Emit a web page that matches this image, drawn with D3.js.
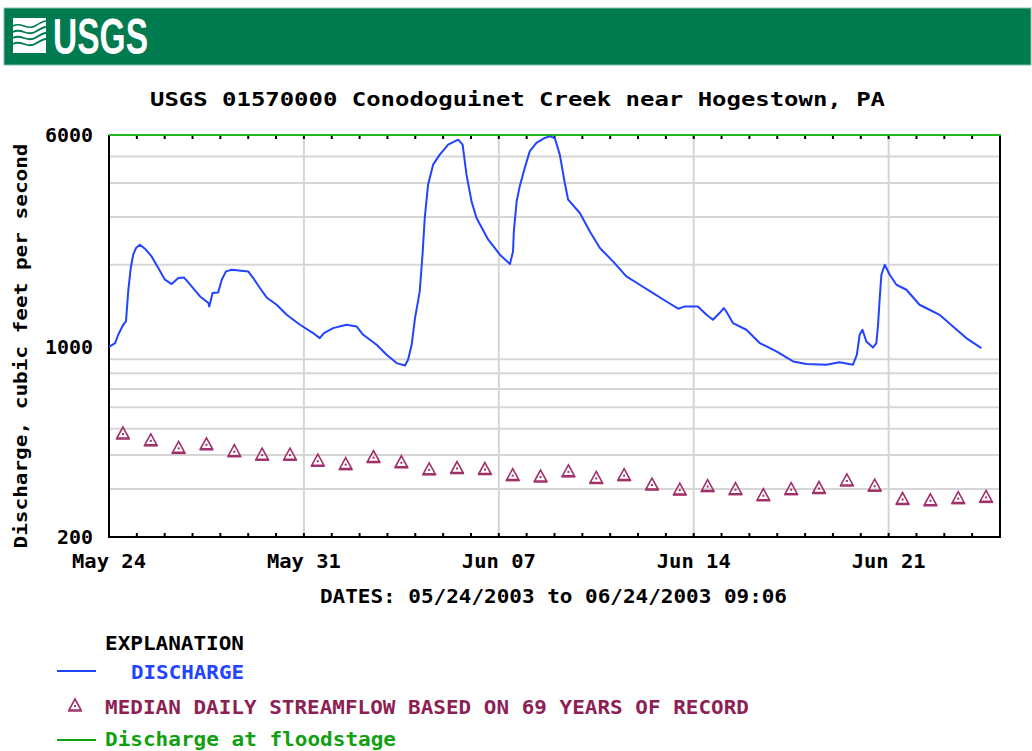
<!DOCTYPE html>
<html>
<head>
<meta charset="utf-8">
<script src="https://cdn.jsdelivr.net/npm/d3@7"></script>
<style>
  html, body { margin: 0; padding: 0; background: #fff; }
  svg { display: block; }
  text { font-family: "DejaVu Sans Mono", "Liberation Mono", monospace; font-weight: bold; }
</style>
</head>
<body>
<svg id="chart" width="1032" height="751"></svg>
<script>
// ---------------- DATA ----------------
const startDate = "2003-05-24";
const endDate = "2003-06-25";
// Discharge: days since May 24 00:00, and cubic feet per second
const dischargeDays = [0, 0.22, 0.33, 0.51, 0.61, 0.69, 0.78, 0.87, 0.97, 1.11,
  1.29, 1.53, 1.77, 2.01, 2.25, 2.49, 2.69, 2.90, 3.27, 3.57,
  3.60, 3.72, 3.92, 4.05, 4.20, 4.41, 5.00, 5.18, 5.42, 5.66,
  6.02, 6.38, 6.86, 7.33, 7.57, 7.72, 8.05, 8.53, 8.89, 9.13,
  9.61, 9.97, 10.33, 10.63, 10.74, 10.87, 10.99, 11.16, 11.26, 11.34,
  11.46, 11.64, 11.88, 12.18, 12.54, 12.70, 12.84, 13.02, 13.20, 13.62,
  14.04, 14.40, 14.51, 14.54, 14.64, 14.75, 14.93, 15.11, 15.35, 15.65,
  15.83, 16.01, 16.19, 16.37, 16.49, 16.91, 17.27, 17.63, 18.10, 18.58,
  19.06, 19.54, 20.02, 20.44, 20.68, 21.15, 21.46, 21.69, 21.93, 22.08,
  22.17, 22.41, 22.89, 23.37, 23.97, 24.57, 25.05, 25.76, 26.24, 26.72,
  26.86, 26.96, 27.06, 27.20, 27.44, 27.56, 27.62, 27.68, 27.74, 27.86,
  28.04, 28.28, 28.64, 29.11, 29.47, 29.83, 30.31, 30.79, 31.33];
const dischargeCfs = [1000, 1032, 1107, 1205, 1239, 1597, 1947, 2179, 2306, 2371,
  2293, 2148, 1947, 1764, 1700, 1789, 1798, 1700, 1531, 1448,
  1407, 1575, 1583, 1764, 1892, 1919, 1892, 1789, 1644, 1518,
  1427, 1311, 1205, 1123, 1076, 1123, 1171, 1205, 1188, 1107,
  1017, 935, 871, 854, 896, 1017, 1275, 1597, 2179, 2973,
  3940, 4669, 5081, 5529, 5768, 5529, 4290, 3421, 2973, 2474,
  2179, 2014, 2240, 2654, 3421, 3884, 4539, 5224, 5609, 5852,
  5932, 5852, 5081, 3997, 3471, 3101, 2654, 2306, 2059, 1813,
  1690, 1575, 1467, 1380, 1407, 1407, 1311, 1257, 1330, 1388,
  1348, 1222, 1155, 1032, 961, 883, 864, 859, 878, 859,
  935, 1107, 1155, 1046, 994, 1032, 1205, 1510, 1839, 2002,
  1839, 1690, 1620, 1427, 1368, 1311, 1188, 1076, 989];
// Median daily streamflow, one per day (May 24 .. Jun 24), plotted at noon
const medianCfs = [482, 455, 427, 440, 415, 403, 403, 383, 372, 395,
  378, 356, 360, 357, 339, 335, 350, 331, 339, 313,
  300, 309, 301, 286, 301, 304, 324, 310, 277, 274,
  279, 282];
const yTickValues = [200, 1000, 6000];
const yGridValues = [300, 400, 500, 600, 700, 800, 900, 2000, 3000, 4000, 5000];
const xTickDates = ["2003-05-24", "2003-05-31", "2003-06-07", "2003-06-14", "2003-06-21"];
const xTickLabels = ["May 24", "May 31", "Jun 07", "Jun 14", "Jun 21"];
const floodStage = 6000;
const titleText = "USGS 01570000 Conodoguinet Creek near Hogestown, PA";
const yLabelText = "Discharge, cubic feet per second";
const datesText = "DATES: 05/24/2003 to 06/24/2003 09:06";

// ---------------- LAYOUT ----------------
const svg = d3.select("#chart");
const L = 109, R = 1000, T = 135, B = 537;
const DAY = 864e5;
const t0 = new Date(startDate + "T00:00:00Z");
const x = d3.scaleUtc().domain([t0, new Date(endDate + "T00:00:00Z")]).range([L, R]);
const y = d3.scaleLog().domain([200, 6000]).range([B, T]);

const blue = "#2244ff", maroon = "#a0306a", maroonText = "#8e1f55", green = "#10a010";

// ---- Header bar ----
svg.append("rect").attr("x", 4).attr("y", 8).attr("width", 1027).attr("height", 57)
  .attr("fill", "#007a4f").attr("stroke", "#7fc0a6").attr("stroke-width", 1);
// logo icon
const logo = svg.append("g");
logo.append("rect").attr("x", 13).attr("y", 18).attr("width", 33).attr("height", 35).attr("fill", "#fff");
const wave = (y0, a) => `M13,${y0} C21,${y0 - a} 27,${y0 + a} 35,${y0} S46,${y0 - a} 46,${y0 - a}`;
[26, 32, 38, 44].forEach((yy, i) => {
  logo.append("path").attr("d", wave(yy, 5)).attr("fill", "none")
    .attr("stroke", "#007a4f").attr("stroke-width", i === 0 ? 1.6 : 1.8);
});
logo.append("text").attr("x", 53).attr("y", 54)
  .attr("textLength", 95).attr("lengthAdjust", "spacingAndGlyphs")
  .style("font-family", "'Liberation Sans Narrow', 'Liberation Sans', Arial, sans-serif")
  .style("font-weight", "bold").style("font-size", "50px").attr("fill", "#fff").text("USGS");

// ---- Title ----
svg.append("text").attr("x", 150).attr("y", 106).attr("textLength", 735)
  .attr("lengthAdjust", "spacingAndGlyphs").style("font-size", "20px").attr("fill", "#000")
  .text(titleText);

// ---- Grid ----
const grid = svg.append("g").attr("stroke", "#d6d6d6").attr("stroke-width", 2);
grid.selectAll("line.h").data(yGridValues).join("line").attr("class", "h")
  .attr("x1", L).attr("x2", R).attr("y1", d => y(d)).attr("y2", d => y(d));
grid.selectAll("line.v").data(xTickDates.slice(1)).join("line").attr("class", "v")
  .attr("x1", d => x(new Date(d + "T00:00:00Z"))).attr("x2", d => x(new Date(d + "T00:00:00Z")))
  .attr("y1", T).attr("y2", B);

// ---- Day ticks (inside, top and bottom) ----
const days = d3.utcDay.range(d3.utcDay.offset(t0, 1), x.domain()[1]);
const dayTicks = svg.append("g").attr("stroke", "#000").attr("stroke-width", 2);
dayTicks.selectAll("line.b").data(days).join("line").attr("class", "b")
  .attr("x1", d => x(d)).attr("x2", d => x(d)).attr("y1", B).attr("y2", B - 4);
dayTicks.selectAll("line.t").data(days).join("line").attr("class", "t")
  .attr("x1", d => x(d)).attr("x2", d => x(d)).attr("y1", T).attr("y2", T + 4);

// ---- Frame ----
svg.append("line").attr("x1", L).attr("x2", L).attr("y1", T).attr("y2", B + 1).attr("stroke", "#000").attr("stroke-width", 2);
svg.append("line").attr("x1", L).attr("x2", R + 1).attr("y1", B).attr("y2", B).attr("stroke", "#000").attr("stroke-width", 2);
svg.append("line").attr("x1", R).attr("x2", R).attr("y1", T).attr("y2", B + 1).attr("stroke", "#000").attr("stroke-width", 2);
// flood stage line at top
svg.append("line").attr("x1", L).attr("x2", R + 1).attr("y1", y(floodStage)).attr("y2", y(floodStage))
  .attr("stroke", "#22b822").attr("stroke-width", 2);

// ---- Y axis labels ----
svg.selectAll("text.ytick").data(yTickValues).join("text").attr("class", "ytick")
  .attr("x", 93).attr("y", d => y(d) + 7).attr("text-anchor", "end")
  .attr("textLength", d => String(d).length * 12).attr("lengthAdjust", "spacingAndGlyphs")
  .style("font-size", "20px").text(d => d);
svg.append("text").attr("transform", "translate(27,346) rotate(-90)").attr("text-anchor", "middle")
  .attr("textLength", 405).attr("lengthAdjust", "spacingAndGlyphs").style("font-size", "18px")
  .text(yLabelText);

// ---- X axis labels ----
svg.selectAll("text.xtick").data(xTickDates).join("text").attr("class", "xtick")
  .attr("x", d => x(new Date(d + "T00:00:00Z"))).attr("y", 568).attr("text-anchor", "middle")
  .attr("textLength", 74).attr("lengthAdjust", "spacingAndGlyphs").style("font-size", "19px")
  .text((d, i) => xTickLabels[i]);
svg.append("text").attr("x", 320).attr("y", 603).attr("textLength", 467)
  .attr("lengthAdjust", "spacingAndGlyphs").style("font-size", "19px").text(datesText);

// ---- Discharge line ----
const dischargeData = dischargeDays.map((d, i) => ({ t: new Date(t0.getTime() + d * DAY), v: dischargeCfs[i] }));
svg.append("path").datum(dischargeData)
  .attr("d", d3.line().x(d => x(d.t)).y(d => y(d.v)))
  .attr("fill", "none").attr("stroke", blue).attr("stroke-width", 2).attr("stroke-linejoin", "round");

// ---- Median triangles ----
function triangle(g, cx, cy) {
  g.append("path").attr("d", `M${cx},${cy - 6} L${cx + 6},${cy + 5} L${cx - 6},${cy + 5} Z`)
    .attr("fill", "none").attr("stroke", maroon).attr("stroke-width", 1.6).attr("stroke-linejoin", "miter");
  g.append("line").attr("x1", cx - 7).attr("x2", cx + 7).attr("y1", cy + 6).attr("y2", cy + 6)
    .attr("stroke", maroon).attr("stroke-width", 1.5);
  g.append("rect").attr("x", cx - 1).attr("y", cy).attr("width", 2).attr("height", 2).attr("fill", maroon);
}
const medG = svg.append("g");
medianCfs.forEach((v, i) => {
  const t = new Date(t0.getTime() + (i + 0.5) * DAY);
  triangle(medG, x(t), y(v));
});

// ---- Legend ----
svg.append("text").attr("x", 105).attr("y", 650).attr("textLength", 139)
  .attr("lengthAdjust", "spacingAndGlyphs").style("font-size", "19px").attr("fill", "#000").text("EXPLANATION");
svg.append("line").attr("x1", 57).attr("x2", 96).attr("y1", 671).attr("y2", 671).attr("stroke", blue).attr("stroke-width", 2);
svg.append("text").attr("x", 131).attr("y", 679).attr("textLength", 113)
  .attr("lengthAdjust", "spacingAndGlyphs").style("font-size", "19px").attr("fill", blue).text("DISCHARGE");
triangle(svg.append("g"), 75, 705);
svg.append("text").attr("x", 105).attr("y", 714).attr("textLength", 644)
  .attr("lengthAdjust", "spacingAndGlyphs").style("font-size", "19px").attr("fill", maroonText)
  .text("MEDIAN DAILY STREAMFLOW BASED ON 69 YEARS OF RECORD");
svg.append("line").attr("x1", 57).attr("x2", 96).attr("y1", 740).attr("y2", 740).attr("stroke", green).attr("stroke-width", 2);
svg.append("text").attr("x", 105).attr("y", 746).attr("textLength", 291)
  .attr("lengthAdjust", "spacingAndGlyphs").style("font-size", "19px").attr("fill", green)
  .text("Discharge at floodstage");
</script>
</body>
</html>
